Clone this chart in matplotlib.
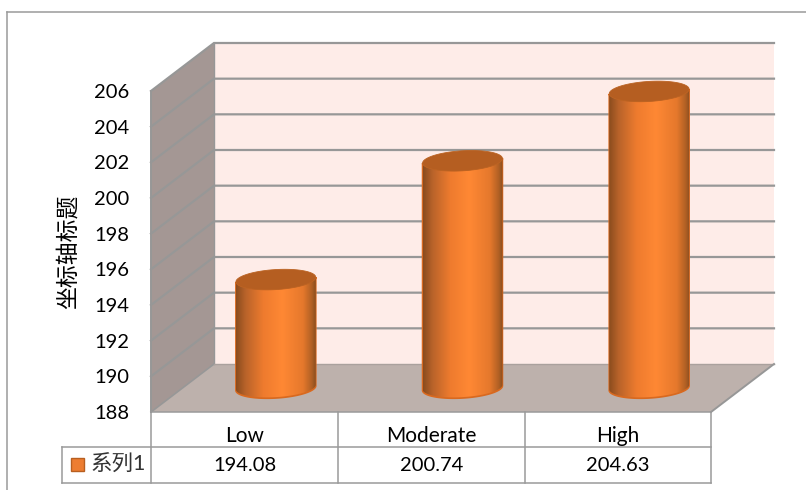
import numpy as np
import matplotlib
matplotlib.use("Agg")
import matplotlib.pyplot as plt
from matplotlib.lines import Line2D
from matplotlib.patches import Polygon, Rectangle

plt.rcParams['font.family'] = ['Lato', 'Noto Sans CJK SC', 'DejaVu Sans']

categories = ['Low', 'Moderate', 'High']
values = [194.08, 200.74, 204.63]
series_name = '系列1'
axis_title = '坐标轴标题'
y_ticks = [188, 190, 192, 194, 196, 198, 200, 202, 204, 206]

W, H = 806, 490
fig = plt.figure(figsize=(W / 100, H / 100), dpi=100)

# Front plane of the 3-D box, in pixels
L, R, B, T = 151, 711, 412, 91
ax = fig.add_axes([L / W, 1 - B / H, (R - L) / W, (B - T) / H])
ax.set_xlim(0, 3)
ax.set_ylim(188, 206)
ax.patch.set_visible(False)
for s in ax.spines.values():
    s.set_visible(False)
ax.set_xticks([])
ax.set_yticks(y_ticks)
ax.tick_params(axis='y', length=0, pad=15.8, labelsize=14.5, labelcolor='black')

ux = 3 / (R - L)        # data units per pixel
uy = 18 / (B - T)
DX, DY = 63 * ux, 48 * uy   # depth offset of the back wall

GRID = '#979797'
kw = dict(clip_on=False)

# Walls and floor
ax.add_patch(Polygon([(DX, 188 + DY), (3 + DX, 188 + DY), (3 + DX, 206 + DY), (DX, 206 + DY)],
                     fc='#feece8', ec='none', zorder=1, **kw))
ax.add_patch(Polygon([(0, 188), (DX, 188 + DY), (DX, 206 + DY), (0, 206)],
                     fc='#a49794', ec='none', zorder=1, **kw))
ax.add_patch(Polygon([(0, 188), (3, 188), (3 + DX, 188 + DY), (DX, 188 + DY)],
                     fc='#bdb1ac', ec='none', zorder=1, **kw))

# Gridlines run along the side wall and across the back wall
for v in y_ticks[1:]:
    ax.plot([0, DX, 3 + DX], [v, v + DY, v + DY], color=GRID, lw=1.6, zorder=2,
            solid_joinstyle='miter', **kw)
ax.plot([0, 0], [188, 206], color=GRID, lw=1.4, zorder=2, **kw)
ax.plot([DX, DX], [188 + DY, 206 + DY], color=GRID, lw=1.0, zorder=2, **kw)
ax.plot([0, DX], [188, 188 + DY], color=GRID, lw=1.2, zorder=2, **kw)
ax.plot([DX, 3 + DX], [188 + DY, 188 + DY], color='#aaa19d', lw=1.0, zorder=2, **kw)
ax.plot([3, 3 + DX], [188, 188 + DY], color=GRID, lw=1.4, zorder=2, **kw)

# Cylinders
RX, RY, TILT = 40, 10, np.radians(3.5)
ramp = matplotlib.colors.LinearSegmentedColormap.from_list(
    'cyl', [(0, '#8a4c1e'), (0.12, '#b9632a'), (0.34, '#ee7b2e'), (0.58, '#ff8834'),
            (0.84, '#e5782c'), (0.95, '#b06024'), (1, '#8a4e20')])


def ellipse(cx, cy, t):
    px = RX * np.cos(t)
    py = RY * np.sin(t)
    return (cx + (px * np.cos(TILT) - py * np.sin(TILT)) * ux,
            cy + (px * np.sin(TILT) + py * np.cos(TILT)) * uy)


for i, v in enumerate(values):
    cx = i + 0.5 + DX / 2
    base = 188 + DY / 2
    top = v + DY / 2
    front = np.linspace(np.pi, 2 * np.pi, 80)
    bx, by = ellipse(cx, base, front)
    tx, ty = ellipse(cx, top, front[::-1])
    body = Polygon(np.r_[np.c_[bx, by], np.c_[tx, ty]], fc='#d96c22', ec='#d9691f', lw=1.2,
                   zorder=3, **kw)
    ax.add_patch(body)
    img = ax.imshow(np.linspace(0, 1, 256)[None, :], cmap=ramp, aspect='auto',
                    extent=(cx - RX * ux, cx + RX * ux, base - 14 * uy, top + 14 * uy),
                    zorder=4, clip_on=True)
    img.set_clip_path(Polygon(np.r_[np.c_[bx, by + 0.9 * uy], np.c_[tx, ty]],
                              transform=ax.transData))
    full = np.linspace(0, 2 * np.pi, 120)
    ex, ey = ellipse(cx, top, full)
    ax.add_patch(Polygon(np.c_[ex, ey], fc='#b55e21', ec='#bb6323', lw=0.6, zorder=5, **kw))
ax.set_xlim(0, 3)
ax.set_ylim(188, 206)

# Data table under the plot
TABLE = '#9a9a9a'
px_fig = fig.transFigure


def hline(x0, x1, y):
    fig.add_artist(Line2D([x0 / W, x1 / W], [1 - y / H, 1 - y / H], color=TABLE, lw=1.1))


def vline(x, y0, y1):
    fig.add_artist(Line2D([x / W, x / W], [1 - y0 / H, 1 - y1 / H], color=TABLE, lw=1.1))


col_edges = [151, 338, 525, 711]
hline(62, 711, 447)
hline(62, 711, 483)
for x in col_edges:
    vline(x, 412, 483)
vline(62, 447, 483)
hline(151, 711, 412)

for i, (c, v) in enumerate(zip(categories, values)):
    xc = (col_edges[i] + col_edges[i + 1]) / 2 / W
    fig.text(xc, 1 - 435.5 / H, c, ha='center', va='center', fontsize=15, color='black')
    fig.text(xc, 1 - 465.5 / H, f'{v:.2f}', ha='center', va='center', fontsize=14.5, color='black')

fig.add_artist(Rectangle((70.5 / W, 1 - 471 / H), 13 / W, 13 / H, fc='#ed7d31', ec='#b85f20',
                         lw=1.0, transform=px_fig))
fig.text(90 / W, 1 - 465 / H, series_name, ha='left', va='center', fontsize=15.5, color='#333333')

fig.text(68 / W, 1 - 252 / H, axis_title, rotation=90, ha='center', va='center',
         fontsize=16.5, color='black')

# Chart area border
hline(7, 806, 12.5)
vline(7.5, 12, 490)

fig.savefig('out.png', dpi=100)
